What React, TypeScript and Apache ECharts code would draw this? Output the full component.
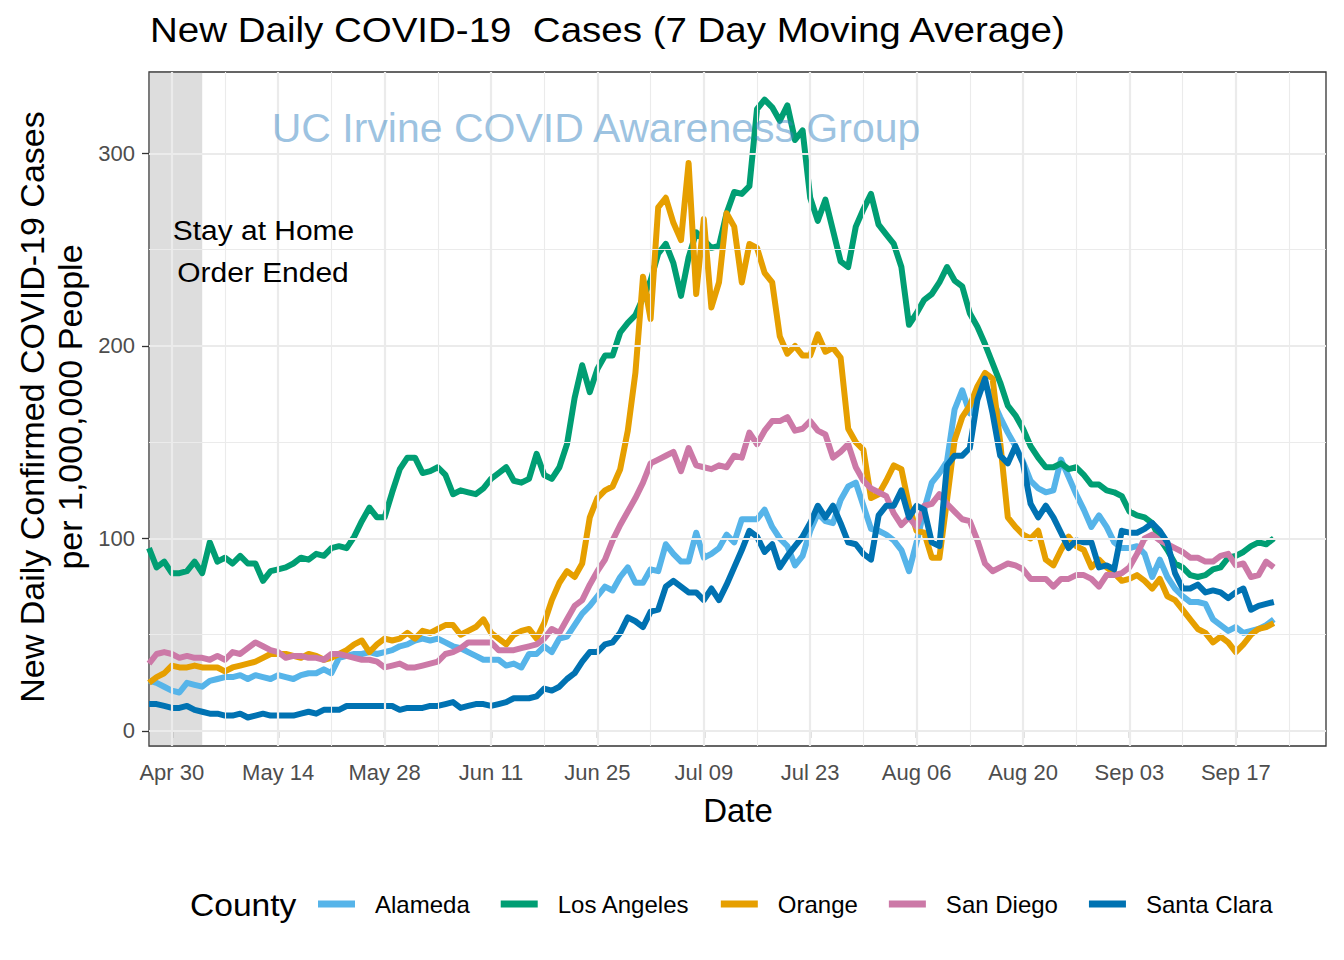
import React, { useEffect, useRef } from "react";
import * as echarts from "echarts";

// Day index 0 = 2020-04-27, last index 148 = 2020-09-22
const startDate = "2020-04-27";
const stayAtHomeEndDay = 7; // shaded region ends May 04
const xTickDays = [3, 17, 31, 45, 59, 73, 87, 101, 115, 129, 143];
const xTickLabels = ["Apr 30", "May 14", "May 28", "Jun 11", "Jun 25", "Jul 09", "Jul 23", "Aug 06", "Aug 20", "Sep 03", "Sep 17"];
const xMinorDays = [10, 24, 38, 52, 66, 80, 94, 108, 122, 136, 150];
const yTicks = [0, 100, 200, 300];
const yMinor = [50, 150, 250];

const countyNames = ["Alameda", "Los Angeles", "Orange", "San Diego", "Santa Clara"];
const countyColors = ["#56B4E9", "#009E73", "#E69F00", "#CC79A7", "#0072B2"];

const alameda = [
  26, 25, 23, 21, 20, 25, 24, 23, 26, 27,
  28, 28, 29, 27, 29, 28, 27, 29, 28, 27,
  29, 30, 30, 32, 30, 38, 39, 40, 40, 41,
  40, 41, 42, 44, 45, 47, 48, 47, 48, 46,
  44, 43, 41, 39, 37, 37, 37, 34, 35, 33,
  40, 40, 44, 41, 48, 49, 55, 61, 65, 70,
  75, 73, 80, 85, 77, 77, 84, 83, 97, 92,
  88, 88, 103, 90, 92, 95, 102, 98, 110, 110,
  110, 115, 106, 100, 96, 86, 91, 104, 113, 109,
  108, 120, 127, 129, 117, 105, 104, 102, 99, 94,
  83, 98, 115, 129, 134, 140, 167, 177, 165, 178,
  180, 172, 163, 155, 148, 140, 130, 126, 124, 125,
  141, 132, 123, 115, 106, 112, 106, 98, 95, 95,
  96, 92, 80, 89, 80, 74, 70, 67, 67, 66,
  58, 55, 52, 54, 51, 52, 53, 55, 58,
];

const losAngeles = [
  95, 85, 88, 82, 82, 83, 88, 82, 98, 88,
  90, 87, 91, 87, 87, 78, 83, 84, 85, 87,
  90, 89, 92, 91, 95, 96, 95, 101, 109, 116,
  111, 111, 124, 136, 142, 142, 134, 135, 137, 133,
  123, 125, 124, 123, 126, 131, 134, 137, 130, 129,
  131, 144, 133, 131, 137, 149, 173, 190, 176, 188,
  195, 195, 207, 212, 216, 225, 234, 248, 253, 243,
  226, 246, 259, 255, 251, 252, 269, 280, 279, 283,
  323, 328, 324, 317, 325, 307, 312, 277, 265, 276,
  260, 244, 241, 262, 271, 279, 263, 258, 253, 241,
  211, 217, 224, 227, 233, 241, 234, 231, 217, 210,
  201, 191, 181, 169, 164, 157, 148, 142, 137, 137,
  139, 136, 137, 133, 128, 128, 125, 124, 122, 114,
  112, 111, 108, 100, 94, 87, 85, 81, 80, 81,
  84, 85, 90, 91, 93, 96, 98, 97, 100,
];

const orange = [
  25, 28, 30, 34, 33, 33, 34, 33, 33, 33,
  31, 33, 34, 35, 36, 38, 40, 40, 40, 39,
  38, 40, 39, 37, 38, 40, 42, 45, 47, 41,
  45, 48, 47, 48, 51, 48, 52, 51, 53, 55,
  55, 50, 52, 54, 58, 51, 48, 45, 50, 52,
  53, 48, 56, 68, 77, 83, 80, 87, 111, 121,
  125, 127, 136, 156, 186, 236, 214, 272, 277, 264,
  255, 295, 227, 266, 220, 233, 269, 262, 233, 253,
  251, 238, 233, 205, 196, 200, 195, 195, 206, 197,
  199, 194, 157, 150, 146, 121, 123, 130, 138, 136,
  117, 104, 103, 90, 90, 120, 151, 163, 169, 179,
  186, 183, 150, 111, 106, 102, 100, 104, 89, 86,
  94, 101, 96, 94, 85, 89, 85, 82, 78, 79,
  81, 78, 74, 79, 70, 68, 63, 58, 53, 51,
  46, 49, 46, 41, 45, 50, 53, 54, 56,
];

const sanDiego = [
  35, 40, 41, 40, 38, 39, 38, 38, 37, 39,
  37, 41, 40, 43, 46, 44, 42, 41, 38, 39,
  39, 38, 38, 37, 40, 40, 39, 38, 37, 37,
  36, 33, 34, 35, 33, 33, 34, 35, 36, 40,
  41, 43, 46, 46, 46, 46, 42, 42, 42, 43,
  44, 45, 48, 53, 51, 58, 65, 68, 76, 83,
  89, 99, 107, 114, 121, 129, 139, 141, 143, 145,
  135, 147, 138, 137, 136, 138, 137, 143, 142, 155,
  149, 156, 161, 161, 163, 156, 157, 161, 156, 154,
  142, 145, 149, 137, 130, 126, 124, 122, 113, 107,
  111, 106, 117, 118, 123, 118, 114, 110, 109, 99,
  87, 83, 85, 87, 86, 84, 79, 79, 79, 75,
  79, 79, 81, 81, 79, 75, 81, 81, 82, 85,
  92, 100, 102, 99, 97, 95, 93, 90, 90, 88,
  88, 91, 92, 86, 87, 80, 81, 88, 85,
];

const santaClara = [
  14, 14, 13, 12, 12, 13, 11, 10, 9, 9,
  8, 8, 9, 7, 8, 9, 8, 8, 8, 8,
  9, 10, 9, 11, 11, 11, 13, 13, 13, 13,
  13, 13, 13, 11, 12, 12, 12, 13, 13, 14,
  15, 12, 13, 14, 14, 13, 14, 15, 17, 17,
  17, 18, 22, 21, 23, 27, 30, 36, 41, 41,
  45, 46, 51, 59, 57, 54, 62, 63, 75, 78,
  75, 72, 72, 68, 74, 68, 76, 85, 94, 104,
  101, 93, 97, 85, 91, 96, 101, 108, 117, 111,
  117, 108, 98, 97, 92, 89, 112, 117, 117, 125,
  111, 117, 115, 98, 96, 138, 143, 143, 147, 172,
  183, 165, 143, 139, 148, 139, 118, 111, 117, 111,
  103, 95, 99, 98, 98, 85, 86, 84, 104, 103,
  103, 105, 108, 104, 98, 82, 74, 74, 76, 72,
  73, 72, 69, 72, 74, 63, 65, 66, 67,
];

const seriesValues = [alameda, losAngeles, orange, sanDiego, santaClara];

const FONT = '"Liberation Sans", Arial, Helvetica, sans-serif';

export default function App() {
  const ref = useRef<HTMLDivElement>(null);

  useEffect(() => {
    if (!ref.current) return;
    const chart = echarts.init(ref.current, undefined, { renderer: "svg" });

    const major = { color: "#EBEBEB", width: 2.2 };
    const minor = { color: "#EBEBEB", width: 1.1 };
    const gridLines: any[] = [];
    xMinorDays.forEach((v) => gridLines.push({ xAxis: v, lineStyle: minor }));
    yMinor.forEach((v) => gridLines.push({ yAxis: v, lineStyle: minor }));
    xTickDays.forEach((v) => gridLines.push({ xAxis: v, lineStyle: major }));
    yTicks.forEach((v) => gridLines.push({ yAxis: v, lineStyle: major }));

    const lineSeries = countyNames.map((name, k) => ({
      name,
      type: "line",
      data: seriesValues[k].map((v, i) => [i, v]),
      showSymbol: false,
      symbol: "none",
      color: countyColors[k],
      lineStyle: { width: 6, color: countyColors[k], cap: "butt", join: "round" },
      z: 3,
      silent: true,
      emphasis: { disabled: true },
    }));

    const option: any = {
      animation: false,
      textStyle: { fontFamily: FONT },
      grid: {
        left: 149,
        right: 18,
        top: 72,
        bottom: 214,
        show: true,
        borderColor: "#333333",
        borderWidth: 1.3,
        backgroundColor: "transparent",
      },
      xAxis: {
        type: "value",
        min: 0,
        max: 1177 / 7.6,
        splitLine: { show: false },
        axisLine: { show: false },
        axisTick: {
          show: true,
          length: 7,
          customValues: xTickDays,
          lineStyle: { color: "#333333", width: 1.3 },
        },
        axisLabel: {
          customValues: xTickDays,
          margin: 15,
          fontSize: 22,
          color: "#4D4D4D",
          fontFamily: FONT,
          formatter: (v: number) => xTickLabels[xTickDays.indexOf(Math.round(v))] ?? "",
        },
      },
      yAxis: {
        type: "value",
        min: -7.8,
        max: 674 / 1.925 - 7.8,
        splitLine: { show: false },
        axisLine: { show: false },
        axisTick: {
          show: true,
          length: 7,
          customValues: yTicks,
          lineStyle: { color: "#333333", width: 1.3 },
        },
        axisLabel: {
          customValues: yTicks,
          margin: 14,
          fontSize: 22,
          color: "#4D4D4D",
          fontFamily: FONT,
        },
      },
      legend: {
        data: countyNames,
        left: 313,
        top: 887,
        icon: "rect",
        itemWidth: 37,
        itemHeight: 7,
        itemGap: 31,
        selectedMode: false,
        textStyle: { fontSize: 24, color: "#000000", fontFamily: FONT, padding: [0, 0, 0, 15], lineHeight: 24 },
      },
      graphic: [
        {
          type: "text",
          x: 150,
          y: 30,
          scaleX: 1.1,
          style: { text: "New Daily COVID-19  Cases (7 Day Moving Average)", fill: "#000000", font: `35px ${FONT}`, textAlign: "left", textVerticalAlign: "middle" },
        },
        {
          type: "text",
          x: 596,
          y: 128,
          z: 100,
          style: { text: "UC Irvine COVID Awareness Group", fill: "rgba(60,135,195,0.5)", font: `41px ${FONT}`, textAlign: "center", textVerticalAlign: "middle" },
        },
        {
          type: "text",
          x: 263.5,
          y: 230,
          z: 100,
          scaleX: 1.07,
          style: { text: "Stay at Home", fill: "#000000", font: `28px ${FONT}`, textAlign: "center", textVerticalAlign: "middle" },
        },
        {
          type: "text",
          x: 263,
          y: 272,
          z: 100,
          scaleX: 1.07,
          style: { text: "Order Ended", fill: "#000000", font: `28px ${FONT}`, textAlign: "center", textVerticalAlign: "middle" },
        },
        {
          type: "text",
          x: 738,
          y: 810,
          style: { text: "Date", fill: "#000000", font: `33px ${FONT}`, textAlign: "center", textVerticalAlign: "middle" },
        },
        {
          type: "text",
          x: 32,
          y: 407,
          rotation: Math.PI / 2,
          style: { text: "New Daily Confirmed COVID-19 Cases", fill: "#000000", font: `34px ${FONT}`, textAlign: "center", textVerticalAlign: "middle" },
        },
        {
          type: "text",
          x: 70,
          y: 407,
          rotation: Math.PI / 2,
          style: { text: "per 1,000,000 People", fill: "#000000", font: `34px ${FONT}`, textAlign: "center", textVerticalAlign: "middle" },
        },
        {
          type: "text",
          x: 190,
          y: 905,
          scaleX: 1.05,
          style: { text: "County", fill: "#000000", font: `32px ${FONT}`, textAlign: "left", textVerticalAlign: "middle" },
        },
      ],
      series: [
        {
          name: "gridlines",
          type: "line",
          data: [[-100, -100]],
          showSymbol: false,
          symbol: "none",
          lineStyle: { opacity: 0 },
          z: 1,
          silent: true,
          markLine: {
            silent: true,
            symbol: ["none", "none"],
            label: { show: false },
            emphasis: { disabled: true },
            lineStyle: { type: "solid" },
            data: gridLines,
          },
        },
        ...lineSeries,
        {
          name: "shade",
          type: "line",
          data: [[-100, -100]],
          showSymbol: false,
          symbol: "none",
          lineStyle: { opacity: 0 },
          z: 5,
          silent: true,
          markArea: {
            silent: true,
            label: { show: false },
            emphasis: { disabled: true },
            itemStyle: { color: "rgba(128,128,128,0.27)" },
            data: [[{ xAxis: 0 }, { xAxis: stayAtHomeEndDay }]],
          },
        },
      ],
    };

    chart.setOption(option);
    return () => chart.dispose();
  }, []);

  return (
    <div
      ref={ref}
      data-start-date={startDate}
      style={{ position: "absolute", left: 0, top: 0, width: 1344, height: 960, background: "#ffffff" }}
    />
  );
}
